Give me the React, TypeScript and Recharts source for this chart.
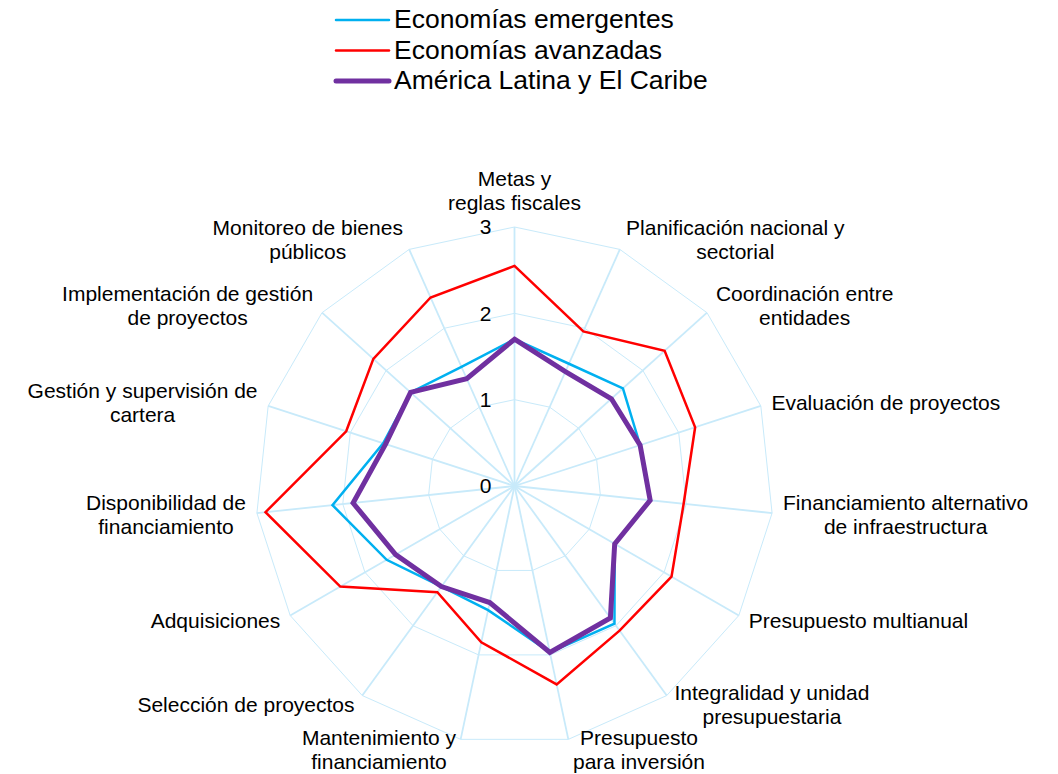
import { RadarChart, Radar, PolarGrid, PolarAngleAxis, PolarRadiusAxis } from 'recharts'

// categories clockwise from the top, "\n" marks the label line break
const CATEGORIES = [
  'Metas y\nreglas fiscales',
  'Planificación nacional y\nsectorial',
  'Coordinación entre\nentidades',
  'Evaluación de proyectos',
  'Financiamiento alternativo\nde infraestructura',
  'Presupuesto multianual',
  'Integralidad y unidad\npresupuestaria',
  'Presupuesto\npara inversión',
  'Mantenimiento y\nfinanciamiento',
  'Selección de proyectos',
  'Adquisiciones',
  'Disponibilidad de\nfinanciamiento',
  'Gestión y supervisión de\ncartera',
  'Implementación de gestión\nde proyectos',
  'Monitoreo de bienes\npúblicos',
]

const EMERGENTES = [1.70, 1.55, 1.69, 1.53, 1.58, 1.34, 1.97, 1.97, 1.47, 1.44, 1.71, 2.12, 1.60, 1.62, 1.51]
const AVANZADAS  = [2.55, 1.96, 2.34, 2.20, 1.97, 2.10, 2.07, 2.35, 1.85, 1.52, 2.33, 2.90, 2.05, 2.20, 2.39]
const ALC        = [1.70, 1.45, 1.51, 1.53, 1.58, 1.34, 1.89, 1.97, 1.38, 1.44, 1.59, 1.88, 1.57, 1.62, 1.36]

const RADIUS_TICKS = [0, 1, 2, 3]

const SERIES = [
  { key: 'emergentes', name: 'Economías emergentes',       color: '#00b0f0', width: 2.5 },
  { key: 'avanzadas',  name: 'Economías avanzadas',        color: '#ff0000', width: 2.5 },
  { key: 'alc',        name: 'América Latina y El Caribe', color: '#7030a0', width: 5 },
]

const data = CATEGORIES.map((cat, i) => ({
  cat,
  emergentes: EMERGENTES[i],
  avanzadas:  AVANZADAS[i],
  alc:        ALC[i],
}))

const W = 1058
const H = 774
const CX = 514.5
const CY = 486
const R = 259
const FONT = "'Liberation Sans', Arial, sans-serif"
const LABEL_SIZE = 21
const LINE_H = 24
const GRID = '#c8eafa'

let ctx: CanvasRenderingContext2D | null = null
const measure = (s: string) => {
  if (!ctx) ctx = document.createElement('canvas').getContext('2d')
  if (!ctx) return s.length * LABEL_SIZE * 0.5
  ctx.font = `${LABEL_SIZE}px ${FONT}`
  return ctx.measureText(s).width
}

const AngleTick = ({ index, payload }: any) => {
  const lines = String(payload.value).split('\n')
  const th = (index * 360 / CATEGORIES.length) * Math.PI / 180
  const s = Math.sin(th)
  const c = Math.cos(th)
  const vx = CX + R * s
  const vy = CY - R * c
  const n = lines.length
  let midX = vx
  let midY: number
  if (Math.abs(s) < 0.05) {
    const bottom = vy - 12
    midY = bottom - (n * LINE_H) / 2
  } else {
    const w = Math.max(...lines.map(measure))
    const gap = 3 + 8 * Math.abs(s)
    midX = s > 0 ? vx + gap + w / 2 : vx - gap - w / 2
    midY = vy - 11 * c
  }
  return (
    <text textAnchor="middle" fontFamily={FONT} fontSize={LABEL_SIZE} fill="#000">
      {lines.map((l, i) => (
        <tspan key={i} x={midX} y={midY + (i - (n - 1) / 2) * LINE_H + LABEL_SIZE * 0.35}>{l}</tspan>
      ))}
    </text>
  )
}

const RadiusTick = ({ x, y, payload }: any) => (
  <text x={x - 29} y={y + LABEL_SIZE * 0.35} textAnchor="middle" fontFamily={FONT} fontSize={LABEL_SIZE} fill="#000">
    {payload.value}
  </text>
)

const LegendBox = () => (
  <svg width={400} height={100} style={{ position: 'absolute', left: 330, top: 0 }}>
    {SERIES.map((s, i) => (
      <g key={s.key}>
        <line x1={6} x2={59} y1={20 + i * 30.5} y2={20 + i * 30.5} stroke={s.color} strokeWidth={s.width} strokeLinecap="round" />
        <text x={64} y={19 + i * 30.5 + 26.5 * 0.35} fontFamily={FONT} fontSize={26.5} fill="#000">{s.name}</text>
      </g>
    ))}
  </svg>
)

export default function App() {
  return (
    <div style={{ position: 'absolute', left: 0, top: 0, width: W, height: H, background: '#fff' }}>
      <RadarChart
        width={W}
        height={H}
        data={data}
        cx={CX}
        cy={CY}
        outerRadius={R}
        margin={{ top: 0, right: 0, bottom: 0, left: 0 }}
      >
        <PolarGrid gridType="polygon" radialLines={false} stroke={GRID} strokeWidth={1} />
        <PolarGrid gridType="polygon" polarRadius={[0]} stroke={GRID} strokeWidth={1.8} />
        <PolarAngleAxis dataKey="cat" tick={(p: any) => <AngleTick {...p} />} tickLine={false} axisLine={false} />
        <PolarRadiusAxis
          angle={90}
          domain={[0, 3]}
          ticks={RADIUS_TICKS as any}
          tickCount={RADIUS_TICKS.length}
          axisLine={false}
          tickLine={false}
          tick={(p: any) => <RadiusTick {...p} />}
        />
        {SERIES.map(s => (
          <Radar
            key={s.key}
            dataKey={s.key}
            name={s.name}
            stroke={s.color}
            strokeWidth={s.width}
            fill="none"
            fillOpacity={0}
            dot={false}
            isAnimationActive={false}
          />
        ))}
      </RadarChart>
      <LegendBox />
    </div>
  )
}
